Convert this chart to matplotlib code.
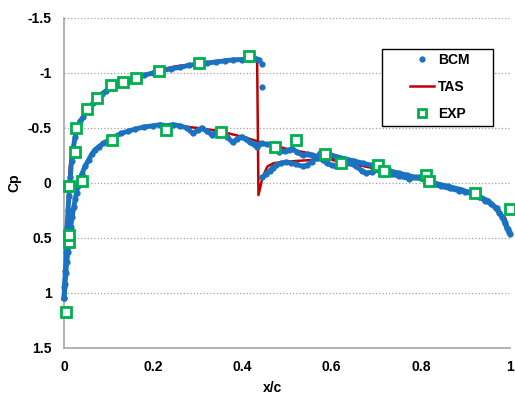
import matplotlib.pyplot as plt
from matplotlib.lines import Line2D
from matplotlib.patches import Rectangle

plt.rcParams['font.family'] = ['Liberation Sans', 'DejaVu Sans']
plt.rcParams['font.weight'] = 'bold'

# --- BCM (dense computed points) ---
bcm_upper_x = [0.0, 0.001, 0.003, 0.005, 0.007, 0.009, 0.011, 0.014, 0.017, 0.021, 0.025, 0.03,
               0.036, 0.043, 0.05, 0.058, 0.066, 0.075, 0.085, 0.095, 0.105, 0.118, 0.13, 0.145,
               0.16, 0.18, 0.2, 0.22, 0.24, 0.26, 0.28, 0.3, 0.32, 0.34, 0.36, 0.38, 0.4, 0.415,
               0.43, 0.437]
bcm_upper_cp = [1.05, 0.95, 0.8, 0.63, 0.4, 0.25, 0.12, -0.05, -0.2, -0.32, -0.42, -0.5,
                -0.56, -0.6, -0.65, -0.69, -0.73, -0.77, -0.81, -0.84, -0.86, -0.89, -0.91, -0.93,
                -0.95, -0.98, -1.0, -1.02, -1.04, -1.05, -1.07, -1.08, -1.09, -1.1, -1.11, -1.12,
                -1.12, -1.13, -1.13, -1.12]
bcm_shock_x = [0.443, 0.443]
bcm_shock_cp = [-1.08, -0.87]
bcm_after_x = [0.445, 0.452, 0.461, 0.468, 0.476, 0.486, 0.498, 0.51, 0.521, 0.535, 0.545,
               0.555, 0.565, 0.575, 0.585, 0.595, 0.61, 0.63, 0.65, 0.67, 0.69, 0.71, 0.73,
               0.75, 0.77, 0.79, 0.81, 0.83, 0.86, 0.89, 0.92, 0.95, 0.97, 0.985, 0.995, 1.0]
bcm_after_cp = [-0.05, -0.08, -0.11, -0.14, -0.16, -0.18, -0.19, -0.18, -0.17, -0.15, -0.16,
                -0.19, -0.23, -0.27, -0.28, -0.26, -0.24, -0.22, -0.2, -0.18, -0.16, -0.14, -0.11,
                -0.09, -0.07, -0.05, -0.03, 0.0, 0.03, 0.06, 0.1, 0.16, 0.23, 0.32, 0.42, 0.46]
bcm_lower_x = [0.0, 0.002, 0.004, 0.006, 0.009, 0.012, 0.015, 0.018, 0.022, 0.025, 0.028, 0.031,
               0.035, 0.04, 0.047, 0.055, 0.062, 0.069, 0.078, 0.088, 0.1, 0.113, 0.128, 0.143,
               0.16, 0.18, 0.2, 0.215, 0.23, 0.245, 0.26, 0.275, 0.289, 0.3, 0.309, 0.32, 0.331,
               0.342, 0.353, 0.365, 0.378, 0.388, 0.398, 0.408, 0.416, 0.425, 0.432, 0.437, 0.443,
               0.455, 0.468, 0.476, 0.483, 0.495, 0.505, 0.512, 0.523, 0.535, 0.547, 0.557, 0.57,
               0.58, 0.59, 0.6, 0.61, 0.625, 0.64, 0.655, 0.668, 0.678, 0.69, 0.707, 0.72, 0.735,
               0.752, 0.774, 0.796, 0.81, 0.826, 0.845, 0.865, 0.885, 0.9, 0.915, 0.93, 0.945,
               0.958, 0.968, 0.976, 0.982, 0.988, 0.993, 0.998]
bcm_lower_cp = [1.05, 0.92, 0.82, 0.72, 0.63, 0.5, 0.4, 0.31, 0.22, 0.15, 0.09, 0.03,
                -0.02, -0.08, -0.15, -0.21, -0.26, -0.3, -0.33, -0.36, -0.39, -0.42, -0.45, -0.47,
                -0.49, -0.51, -0.52, -0.53, -0.52, -0.53, -0.52, -0.5, -0.45, -0.48, -0.5, -0.47, -0.44,
                -0.46, -0.46, -0.42, -0.37, -0.4, -0.42, -0.4, -0.37, -0.35, -0.33, -0.35, -0.36,
                -0.35, -0.35, -0.31, -0.28, -0.29, -0.3, -0.31, -0.28, -0.25, -0.26, -0.25, -0.23,
                -0.21, -0.18, -0.16, -0.15, -0.17, -0.18, -0.15, -0.11, -0.09, -0.1, -0.12, -0.1, -0.08,
                -0.06, -0.04, -0.05, -0.03, 0.01, 0.03, 0.05, 0.07, 0.08, 0.1, 0.13, 0.16,
                0.19, 0.23, 0.27, 0.31, 0.36, 0.41, 0.45]

# --- TAS (red line) ---
tas_upper_x = [0.0, 0.003, 0.006, 0.009, 0.013, 0.017, 0.022, 0.031, 0.043, 0.054, 0.065, 0.08,
               0.103, 0.13, 0.163, 0.215, 0.25, 0.289, 0.33, 0.364, 0.4, 0.423, 0.433, 0.436,
               0.445, 0.456, 0.47, 0.49, 0.52, 0.56, 0.6, 0.65, 0.7, 0.75, 0.8, 0.85, 0.9, 0.94,
               0.97, 0.99, 1.0]
tas_upper_cp = [1.07, 0.7, 0.4, 0.12, -0.15, -0.28, -0.39, -0.52, -0.6, -0.67, -0.73, -0.8,
                -0.87, -0.92, -0.96, -1.03, -1.06, -1.08, -1.1, -1.12, -1.13, -1.14, -1.13, 0.11,
                -0.05, -0.15, -0.18, -0.19, -0.2, -0.21, -0.21, -0.17, -0.13, -0.09, -0.04, 0.02,
                0.08, 0.14, 0.22, 0.33, 0.46]
tas_lower_x = [0.0, 0.004, 0.009, 0.015, 0.02, 0.025, 0.031, 0.04, 0.047, 0.058, 0.069, 0.085,
               0.103, 0.12, 0.143, 0.17, 0.2, 0.25, 0.3, 0.35, 0.4, 0.45, 0.5, 0.55, 0.6, 0.65,
               0.7, 0.75, 0.8, 0.85, 0.9, 0.94, 0.97, 0.99, 1.0]
tas_lower_cp = [1.07, 0.82, 0.62, 0.4, 0.25, 0.15, 0.03, -0.07, -0.15, -0.23, -0.3, -0.35,
                -0.39, -0.43, -0.47, -0.5, -0.52, -0.52, -0.5, -0.47, -0.42, -0.36, -0.31, -0.27,
                -0.22, -0.18, -0.14, -0.09, -0.04, 0.02, 0.08, 0.14, 0.22, 0.33, 0.46]

# --- EXP (green squares) ---
exp_x = [0.004, 0.011, 0.011, 0.011, 0.025, 0.027, 0.051, 0.074, 0.105, 0.132, 0.161, 0.213,
         0.302, 0.414, 0.04, 0.107, 0.228, 0.353, 0.472, 0.52, 0.586, 0.62, 0.705, 0.717,
         0.812, 0.819, 0.922, 1.0]
exp_cp = [1.17, 0.54, 0.47, 0.03, -0.28, -0.5, -0.67, -0.77, -0.89, -0.92, -0.95, -1.02,
          -1.09, -1.15, -0.02, -0.39, -0.48, -0.46, -0.33, -0.39, -0.26, -0.18, -0.16, -0.11,
          -0.07, -0.02, 0.09, 0.24]

blue = '#1B72C0'
red = '#C00000'
green = '#00B050'

fig = plt.figure(figsize=(5.15, 3.94), dpi=100)
ax = fig.add_axes([0.1243, 0.1168, 0.866, 0.8376])

for x, y in [(tas_upper_x, tas_upper_cp), (tas_lower_x, tas_lower_cp)]:
    ax.plot(x, y, '-', color=red, lw=1.8, zorder=2)
for x, y in [(bcm_upper_x, bcm_upper_cp), (bcm_after_x, bcm_after_cp), (bcm_lower_x, bcm_lower_cp)]:
    ax.plot(x, y, 'o-', color=blue, ms=3.5, lw=3.5, zorder=3, clip_on=False)
ax.plot(bcm_shock_x, bcm_shock_cp, 'o', color=blue, ms=3.5, zorder=3)
ax.plot(exp_x, exp_cp, 's', mfc='white', mec=green, mew=2, ms=6.5, ls='none', zorder=4,
        clip_on=False)

ax.set_xlim(0, 1)
ax.set_ylim(1.5, -1.5)
ax.set_xticks([0, 0.2, 0.4, 0.6, 0.8, 1.0])
ax.set_xticklabels(['0', '0.2', '0.4', '0.6', '0.8', '1'])
ax.set_yticks([-1.5, -1, -0.5, 0, 0.5, 1, 1.5])
ax.set_yticklabels(['-1.5', '-1', '-0.5', '0', '0.5', '1', '1.5'])
ax.tick_params(length=0, labelsize=10, pad=9)
for lab in ax.get_xticklabels() + ax.get_yticklabels():
    lab.set_fontweight('bold')
ax.yaxis.grid(True, ls=':', color='#A0A0A0', lw=0.9)
ax.set_axisbelow(True)
for s in ['top', 'right']:
    ax.spines[s].set_visible(False)
for s in ['left', 'bottom']:
    ax.spines[s].set_color('#A6A6A6')
    ax.spines[s].set_linewidth(1.2)

ax.set_xlabel('x/c', fontsize=10, fontweight='bold')
ax.xaxis.set_label_coords(0.467, -0.1)
ax.set_ylabel('Cp', fontsize=10, fontweight='bold')
ax.yaxis.set_label_coords(-0.095, 0.5)

# legend box drawn separately so the left padding matches the reference
box = Rectangle((382 / 515, 1 - 126 / 394), 111 / 515, 77 / 394,
                transform=fig.transFigure, facecolor='white',
                edgecolor='black', lw=1.0, zorder=5, clip_on=False)
ax.add_patch(box)
handles = [Line2D([], [], marker='o', color=blue, ms=3.5, ls='none'),
           Line2D([], [], color=red, lw=1.8),
           Line2D([], [], marker='s', mfc='white', mec=green, mew=2, ms=6, ls='none')]
leg = ax.legend(handles, ['BCM', 'TAS', 'EXP'], loc='center left',
                bbox_to_anchor=(410 / 515, 1 - 87 / 394), bbox_transform=fig.transFigure,
                frameon=False, prop={'size': 10, 'weight': 'bold'},
                labelspacing=0.95, handlelength=1.75, borderpad=0, handletextpad=0.25,
                borderaxespad=0)
leg.set_zorder(6)

fig.savefig('out.png', dpi=100)
